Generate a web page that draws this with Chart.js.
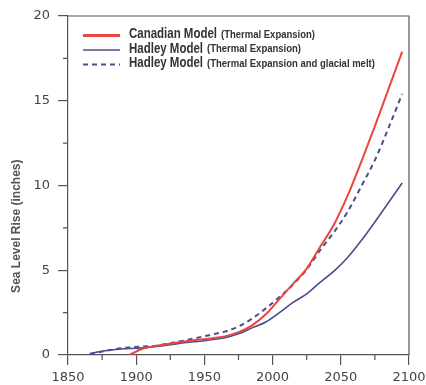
<!DOCTYPE html>
<html>
<head>
<meta charset="utf-8">
<script src="https://cdn.jsdelivr.net/npm/chart.js@4"></script>
<style>
  html, body { margin: 0; padding: 0; background: #fff; }
  #wrap { width: 426px; height: 385px; }
</style>
</head>
<body>
<div id="wrap"><canvas id="c" width="426" height="385"></canvas></div>
<script>
// Projected sea level rise (inches) by model run
const canadianYears = [1895, 1905, 1915, 1925, 1935, 1945, 1955, 1965, 1975, 1985, 1995,
                       2005, 2015, 2025, 2035, 2045, 2055, 2065, 2075, 2085, 2095];
const canadianThermal = [0.0, 0.38, 0.55, 0.67, 0.8, 0.9, 0.98, 1.1, 1.35, 1.75, 2.4,
                         3.3, 4.2, 5.1, 6.4, 7.7, 9.4, 11.4, 13.5, 15.7, 17.9];

const hadleyYears = [1866, 1875, 1885, 1895, 1905, 1915, 1925, 1935, 1945, 1955, 1965, 1975,
                     1985, 1995, 2005, 2015, 2025, 2035, 2045, 2055, 2065, 2075, 2085, 2095];
const hadleyThermal = [0.08, 0.22, 0.32, 0.38, 0.42, 0.5, 0.6, 0.72, 0.8, 0.9, 1.02, 1.25,
                       1.6, 1.95, 2.5, 3.1, 3.6, 4.3, 4.95, 5.75, 6.75, 7.85, 9.0, 10.15];
const hadleyGlacial = [0.05, 0.2, 0.35, 0.45, 0.5, 0.55, 0.7, 0.85, 1.02, 1.2, 1.38, 1.68,
                       2.15, 2.75, 3.42, 4.15, 5.05, 6.2, 7.25, 8.45, 9.95, 11.5, 13.4, 15.4];

const seriesNames = ['Canadian Model', 'Hadley Model', 'Hadley Model'];
const seriesNotes = ['(Thermal Expansion)', '(Thermal Expansion)', '(Thermal Expansion and glacial melt)'];

const yearRange = [1850, 2100];
const yearStep = 50;
const riseRange = [0, 20];
const riseStep = 5;
const yTitle = 'Sea Level Rise (inches)';

const axisColor = '#555';
const textColor = '#444';

function points(xs, ys) { return xs.map((x, i) => ({ x, y: ys[i] })); }

// Top/right frame plus short minor ticks halfway between labelled ticks
const frameAndMinorTicks = {
  id: 'frameAndMinorTicks',
  beforeDatasetsDraw(chart) {
    const { ctx, chartArea: a, scales: { x, y } } = chart;
    const minorLen = 5;
    ctx.save();
    ctx.strokeStyle = axisColor;
    ctx.lineWidth = 1.2;
    ctx.beginPath();
    ctx.moveTo(a.left, a.top);
    ctx.lineTo(a.right, a.top);
    ctx.lineTo(a.right, a.bottom);
    const xt = x.ticks.map(t => t.value);
    for (let i = 0; i < xt.length - 1; i++) {
      const px = x.getPixelForValue((xt[i] + xt[i + 1]) / 2);
      ctx.moveTo(px, a.bottom);
      ctx.lineTo(px, a.bottom + minorLen);
    }
    const yt = y.ticks.map(t => t.value);
    for (let i = 0; i < yt.length - 1; i++) {
      const py = y.getPixelForValue((yt[i] + yt[i + 1]) / 2);
      ctx.moveTo(a.left, py);
      ctx.lineTo(a.left - minorLen, py);
    }
    ctx.stroke();
    ctx.restore();
  }
};

// Axis title and the in-plot legend with narrow lettering
const labels = {
  id: 'labels',
  afterDraw(chart) {
    const { ctx, chartArea: a } = chart;
    ctx.save();
    // y-axis title
    ctx.fillStyle = axisColor;
    ctx.font = 'bold 12px "Liberation Sans", Arial, sans-serif';
    ctx.textAlign = 'center';
    ctx.textBaseline = 'middle';
    ctx.translate(17, a.top + (a.bottom - a.top) * 0.62);
    ctx.rotate(-Math.PI / 2);
    ctx.fillText(yTitle, 0, 0);
    ctx.restore();

    // legend
    const rowY = [a.top + 18.5, a.top + 33, a.top + 47.5];
    const x0 = a.left + 15, x1 = a.left + 52, tx = a.left + 61;
    chart.data.datasets.forEach((ds, i) => {
      const yy = rowY[i];
      ctx.save();
      ctx.strokeStyle = ds.borderColor;
      ctx.lineWidth = i === 0 ? 3 : (ds.borderDash ? 2 : 1.5);
      ctx.setLineDash(ds.borderDash || []);
      ctx.beginPath();
      ctx.moveTo(x0, yy + 1);
      ctx.lineTo(x1, yy + 1);
      ctx.stroke();
      ctx.restore();

      ctx.save();
      ctx.fillStyle = '#333';
      ctx.textBaseline = 'middle';
      ctx.translate(tx, yy);
      ctx.scale(0.82, 1);
      ctx.font = 'bold 14px "Liberation Sans", Arial, sans-serif';
      ctx.fillText(seriesNames[i], 0, 0);
      const w = ctx.measureText(seriesNames[i]).width * 0.82;
      ctx.restore();

      ctx.save();
      ctx.fillStyle = '#333';
      ctx.textBaseline = 'middle';
      ctx.translate(tx + w + 4, yy + 0.5);
      ctx.scale(0.95, 1);
      ctx.font = 'bold 10px "Liberation Sans", Arial, sans-serif';
      ctx.fillText(seriesNotes[i], 0, 0);
      ctx.restore();
    });
  }
};

new Chart(document.getElementById('c'), {
  type: 'line',
  data: {
    datasets: [
      {
        label: seriesNames[0] + ' ' + seriesNotes[0],
        data: points(canadianYears, canadianThermal),
        borderColor: '#e8463e',
        borderWidth: 2,
        pointRadius: 0,
        tension: 0.3,
        cubicInterpolationMode: 'monotone'
      },
      {
        label: seriesNames[1] + ' ' + seriesNotes[1],
        data: points(hadleyYears, hadleyThermal),
        borderColor: '#4b4c8c',
        borderWidth: 1.6,
        pointRadius: 0,
        tension: 0.3,
        cubicInterpolationMode: 'monotone'
      },
      {
        label: seriesNames[2] + ' ' + seriesNotes[2],
        data: points(hadleyYears, hadleyGlacial),
        borderColor: '#4b4f88',
        borderWidth: 2,
        borderDash: [5, 4],
        pointRadius: 0,
        tension: 0.3,
        cubicInterpolationMode: 'monotone'
      }
    ]
  },
  options: {
    responsive: false,
    animation: false,
    layout: { autoPadding: false, padding: { left: 10, top: 16, right: 17, bottom: 0 } },
    plugins: { legend: { display: false }, tooltip: { enabled: false } },
    scales: {
      x: {
        type: 'linear',
        min: yearRange[0],
        max: yearRange[1],
        afterFit: s => { s.height = 30; s.paddingLeft = 0; s.paddingRight = 0; },
        border: { display: true, color: axisColor, width: 1.2 },
        grid: { drawOnChartArea: false, tickLength: 10, color: axisColor, lineWidth: 1.2 },
        ticks: {
          stepSize: yearStep,
          padding: 5,
          color: textColor,
          font: { family: '"DejaVu Sans", Verdana, sans-serif', size: 13 },
          callback: v => String(v),
          maxRotation: 0
        }
      },
      y: {
        min: riseRange[0],
        max: riseRange[1],
        afterFit: s => { s.width = 58; s.paddingTop = 0; s.paddingBottom = 0; },
        border: { display: true, color: axisColor, width: 1.2 },
        grid: { drawOnChartArea: false, tickLength: 10, color: axisColor, lineWidth: 1.2 },
        ticks: {
          stepSize: riseStep,
          padding: 8,
          color: textColor,
          font: { family: '"DejaVu Sans", Verdana, sans-serif', size: 13 },
          callback: v => String(v)
        }
      }
    }
  },
  plugins: [frameAndMinorTicks, labels]
});
</script>
</body>
</html>
